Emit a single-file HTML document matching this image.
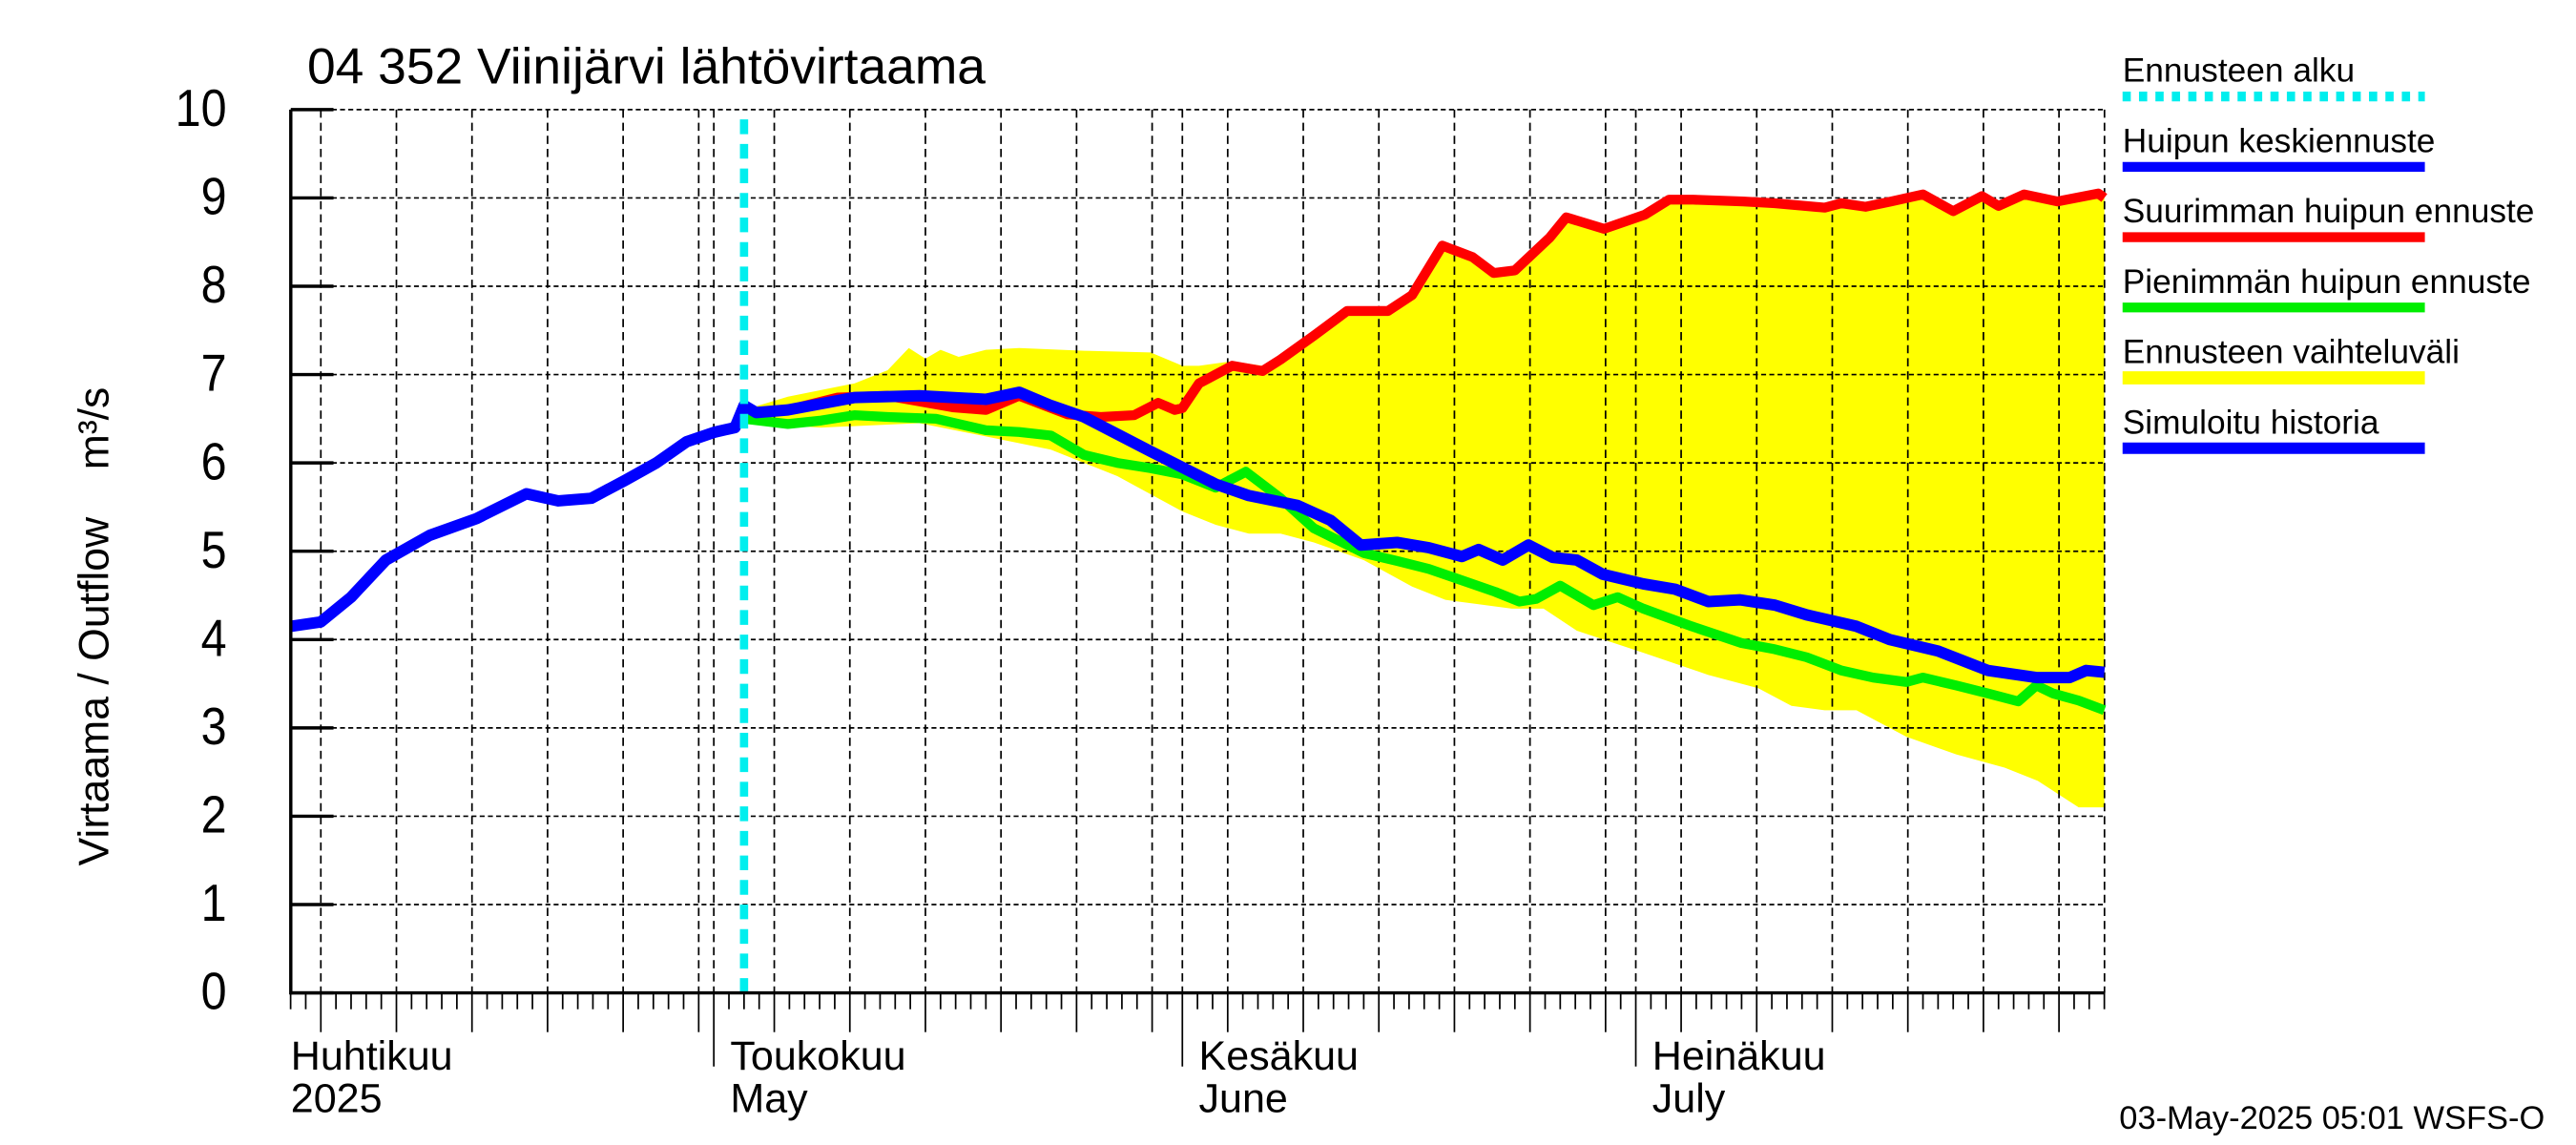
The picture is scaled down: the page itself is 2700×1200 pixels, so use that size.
<!DOCTYPE html>
<html><head><meta charset="utf-8"><style>
html,body{margin:0;padding:0;background:#fff}
svg{display:block;font-family:"Liberation Sans",Arial,sans-serif}
</style></head><body>
<svg id="chart" width="2700" height="1200" viewBox="0 0 1568 700" preserveAspectRatio="none" xmlns="http://www.w3.org/2000/svg">
<text x="187" y="51" font-size="31">04 352 Viinijärvi lähtövirtaama</text>
<text transform="translate(66,383) rotate(-90)" text-anchor="middle" font-size="26" style="white-space:pre" xml:space="preserve">Virtaama / Outflow    m³/s</text>
<g id="plot"></g>
<g id="legend"></g>
<text x="1290" y="690" font-size="20">03-May-2025 05:01 WSFS-O</text>
</svg>
<script>
// data (day index: 0 = 1 April 2025)
const yTicks=[0,1,2,3,4,5,6,7,8,9,10];
const monthStarts=[30,61,91];
const monthLabels=[["Huhtikuu","2025",2],["Toukokuu","May",30],["Kesäkuu","June",61],["Heinäkuu","July",91]];
const forecastStart=32;
const histDays=[2,4,6,8.3,11.2,14.3,17.6,19.7,21.9,24.1,26.2,28.2,30.1,31.4,32,32.8,34.9,37.1,39.3,43.6,48,50.2,52.3,54.5,58.9,63.2,65.4,68.6,70.8,72.8,75.2,77.3,79.5,80.6,82.2,83.9,85.5,87.1,88.8,91.5,93.6,95.8,97.9,100.2,102.3,105.6,107.8,111,114.3,117.5,119.7,120.8,122];
const histVals=[4.15,4.2,4.48,4.9,5.18,5.37,5.65,5.57,5.6,5.8,6.0,6.24,6.35,6.4,6.65,6.57,6.6,6.67,6.74,6.76,6.72,6.8,6.65,6.52,6.13,5.76,5.63,5.52,5.35,5.07,5.1,5.04,4.94,5.02,4.9,5.07,4.93,4.9,4.74,4.63,4.57,4.43,4.45,4.39,4.28,4.15,4.0,3.87,3.65,3.57,3.57,3.65,3.63];
const maxDays=[32,34.9,38.2,41.5,45.8,48,50.2,53.4,55.6,57.8,59.4,60.5,61,62.1,64.3,66.3,67.5,69.7,71.9,74.6,76.2,78.2,80.2,81.6,83,85.3,86.4,88.9,91.6,93.2,94.8,98.1,100.2,103.5,104.6,106.2,107.9,110,112,113.9,115,116.7,118.9,121.6,122];
const maxVals=[6.55,6.6,6.74,6.76,6.63,6.6,6.76,6.55,6.52,6.54,6.68,6.6,6.62,6.9,7.1,7.04,7.17,7.44,7.72,7.72,7.9,8.46,8.33,8.15,8.18,8.55,8.78,8.65,8.81,8.98,8.98,8.96,8.94,8.89,8.94,8.9,8.96,9.04,8.85,9.02,8.91,9.04,8.96,9.05,9.0];
const minDays=[32,34.9,37.1,39.3,41.5,44.7,48,50.2,52.3,54.5,56.7,58.9,61,63.2,65.2,67.5,69.7,73,75.2,77.3,79.5,81.7,83.3,84.4,86,88.2,89.8,91.5,94.7,98,100.2,102.3,104.6,106.7,108.9,110,112.2,114.3,116.3,117.5,118.6,120.3,122];
const minVals=[6.5,6.44,6.48,6.54,6.52,6.5,6.37,6.35,6.31,6.09,6.0,5.94,5.87,5.72,5.9,5.6,5.26,4.98,4.89,4.8,4.67,4.54,4.43,4.46,4.61,4.39,4.48,4.35,4.15,3.96,3.89,3.8,3.65,3.57,3.52,3.57,3.48,3.39,3.3,3.48,3.39,3.31,3.2];
const bandDays=[32,34.9,39.3,41.5,42.9,44,45,46.2,48,50.2,54.5,58.9,61,62.1,64.3,66.3,67.5,69.7,71.9,74.6,76.2,78.2,80.2,81.6,83,85.3,86.4,88.9,91.6,93.2,94.8,98.1,100.2,103.5,104.6,106.2,107.9,110,112,113.9,115,116.7,118.9,121.6,122];
const bandHigh=[6.6,6.75,6.9,7.05,7.3,7.18,7.28,7.2,7.28,7.3,7.27,7.25,7.1,7.1,7.15,7.1,7.2,7.47,7.75,7.75,7.93,8.49,8.36,8.18,8.21,8.58,8.81,8.68,8.84,9.01,9.01,8.99,8.97,8.92,8.97,8.93,8.99,9.07,8.88,9.05,8.94,9.07,8.99,9.08,9.03];
const bandLowDays=[32,37.1,43.6,48,52.3,56.7,61,63.2,65.4,67.5,69.7,73,76.2,78.4,80.6,82.8,84.9,87.1,91.5,95.8,99.1,101.3,103.5,105.6,108.9,112.2,115.4,117.6,120.3,122];
const bandLow=[6.45,6.4,6.45,6.3,6.15,5.85,5.45,5.3,5.2,5.2,5.1,4.9,4.6,4.45,4.4,4.35,4.35,4.1,3.85,3.6,3.45,3.25,3.2,3.2,2.9,2.7,2.55,2.4,2.1,2.1];

const NS="http://www.w3.org/2000/svg";
const X0=177,X1=1281,Y0=607,Y1=67;
function xs(d){return 158.5+9.2*d;}
function ys(v){return Y0-(v/10)*(Y0-Y1);}
const plot=document.getElementById('plot');
function mk(tag,attrs,parent){const e=document.createElementNS(NS,tag);for(const k in attrs)e.setAttribute(k,attrs[k]);(parent||plot).appendChild(e);return e;}

// band
let pts=bandDays.map((d,i)=>xs(d)+","+ys(bandHigh[i]));
for(let i=bandLowDays.length-1;i>=0;i--)pts.push(xs(bandLowDays[i])+","+ys(bandLow[i]));
const band=mk('polygon',{points:pts.join(' '),fill:'#ffff00',stroke:'none'});



// grid
for(const v of yTicks){if(v===0)continue;const g=mk('line',{x1:X0,x2:X1,y1:ys(v),y2:ys(v),stroke:'#000','stroke-width':1,'stroke-dasharray':'3,2'});

}
for(let d=4;d<=122;d+=5){const x=xs(d);if(x>X1)break;const g=mk('line',{x1:x,x2:x,y1:Y1,y2:Y0,stroke:'#000','stroke-width':1,'stroke-dasharray':'5,3'});

}
for(const m of monthStarts){const g=mk('line',{x1:xs(m),x2:xs(m),y1:Y1,y2:Y0,stroke:'#000','stroke-width':1,'stroke-dasharray':'5,3'});

}
const rb=mk('line',{x1:X1,x2:X1,y1:Y1,y2:Y0,stroke:'#000','stroke-width':1,'stroke-dasharray':'5,3'});



function series(days,vals,color,w,name){
 const p=mk('polyline',{points:days.map((d,i)=>xs(d)+","+ys(vals[i])).join(' '),fill:'none',stroke:color,'stroke-width':w,'stroke-linejoin':'round'});
 
 
}
series(maxDays,maxVals,'#ff0000',6,'max-peak-forecast-line');
series(minDays,minVals,'#00ee00',6,'min-peak-forecast-line');
series(histDays,histVals,'#0000ff',7,'simulated-history-line');

const fl=mk('line',{x1:xs(forecastStart),x2:xs(forecastStart),y1:Y1+6,y2:Y0,stroke:'#00eeee','stroke-width':5,'stroke-dasharray':'9,6'});



// axes
const ya=mk('line',{x1:X0,x2:X0,y1:Y1,y2:Y0+1,stroke:'#000','stroke-width':2});


const xa=mk('line',{x1:X0,x2:X1,y1:Y0,y2:Y0,stroke:'#000','stroke-width':2});


for(const v of yTicks){
 const t=mk('line',{x1:X0,x2:X0+26,y1:ys(v),y2:ys(v),stroke:'#000','stroke-width':2});
 
 
 const l=mk('text',{x:0,y:0,'text-anchor':'end','font-size':32,transform:'translate(138,'+(ys(v)+10)+') scale(0.88,1)'});
 l.textContent=v;
 
 
}
for(let d=2;d<=122;d++){const x=xs(d);if(x<X0-0.5||x>X1+0.5)continue;
 let len=10;if((d-4)%5===0)len=24;if(monthStarts.includes(d))len=45;
 const t=mk('line',{x1:x,x2:x,y1:Y0,y2:Y0+len,stroke:'#000','stroke-width':1});
 
 }
for(const [a,b,d] of monthLabels){
 const x=d===2?X0:xs(d)+10;
 const t1=mk('text',{x:x,y:654,'font-size':25});t1.textContent=a;
 
 
 const t2=mk('text',{x:x,y:680,'font-size':25});t2.textContent=b;
 
 
}

// legend
const leg=document.getElementById('legend');
const items=[["Ennusteen alku","#00eeee",6,"5,5"],["Huipun keskiennuste","#0000ff",6,""],["Suurimman huipun ennuste","#ff0000",6,""],["Pienimmän huipun ennuste","#00ee00",6,""],["Ennusteen vaihteluväli","#ffff00",8,""],["Simuloitu historia","#0000ff",7,""]];
items.forEach((it,i)=>{
 const y=50+i*43;
 const t=mk('text',{x:1292,y:y,'font-size':20.5},leg);t.textContent=it[0];
 
 
 const a={x1:1292,x2:1476,y1:y+9,y2:y+9,stroke:it[1],'stroke-width':it[2]};
 if(it[3])a['stroke-dasharray']=it[3];
 const l=mk('line',a,leg);
 
 
});
</script>
</body></html>
